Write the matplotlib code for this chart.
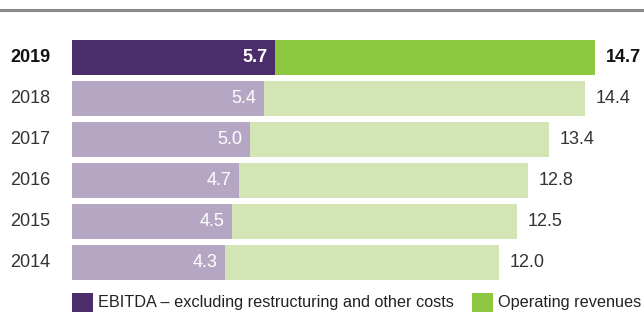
import numpy as np
import matplotlib.pyplot as plt
from matplotlib.patches import Rectangle

plt.rcParams['font.family'] = ['Liberation Sans', 'DejaVu Sans']

years = ['2019', '2018', '2017', '2016', '2015', '2014']
ebitda = [5.7, 5.4, 5.0, 4.7, 4.5, 4.3]
revenues = [14.7, 14.4, 13.4, 12.8, 12.5, 12.0]
legend_labels = ['EBITDA – excluding restructuring and other costs', 'Operating revenues']

dark_purple = '#4b2d6b'
light_purple = '#b5a6c4'
dark_green = '#8dc63f'
light_green = '#d3e5b4'

W, H = 644, 312
fig = plt.figure(figsize=(W / 100, H / 100), dpi=100)
ax = fig.add_axes([72 / W, 0, 1 - 72 / W, 1])

px = 35.6  # pixels per unit
ax.set_xlim(0, (W - 72) / px)
ax.set_ylim((H - 57.5) / 41, -57.5 / 41)

y = np.arange(len(years))
for i in y:
    hi = i == 0
    ax.barh(i, revenues[i], height=0.85, color=dark_green if hi else light_green, linewidth=0)
    ax.barh(i, ebitda[i], height=0.85, color=dark_purple if hi else light_purple, linewidth=0)
    w = 'bold' if hi else 'normal'
    ax.text(ebitda[i] - 0.22, i, f'{ebitda[i]:.1f}', color='white', ha='right', va='center',
            fontsize=13, fontweight=w)
    ax.text(revenues[i] + 0.3, i, f'{revenues[i]:.1f}', color='#111111' if hi else '#333333',
            ha='left', va='center', fontsize=13, fontweight=w)
    ax.text(-62 / px, i, years[i], color='#111111' if hi else '#333333', ha='left', va='center',
            fontsize=13, fontweight=w)

ax.axis('off')

# top rule
fig.add_artist(plt.Line2D([0, 1], [1 - 10 / H, 1 - 10 / H], color='#8a8a8a', linewidth=2.2))

# legend drawn by hand, partly cut by the bottom edge like the reference
def fx(p):
    return p / W

def fy(p):
    return 1 - p / H

for x0, col, lab in [(72, dark_purple, legend_labels[0]), (472, dark_green, legend_labels[1])]:
    fig.add_artist(Rectangle((fx(x0), fy(314)), 21 / W, 21 / H, transform=fig.transFigure,
                             color=col, linewidth=0))
    fig.text(fx(x0 + 26), fy(303), lab, fontsize=11.7, color='#222222', ha='left', va='center')

fig.savefig('out.png', dpi=100)
